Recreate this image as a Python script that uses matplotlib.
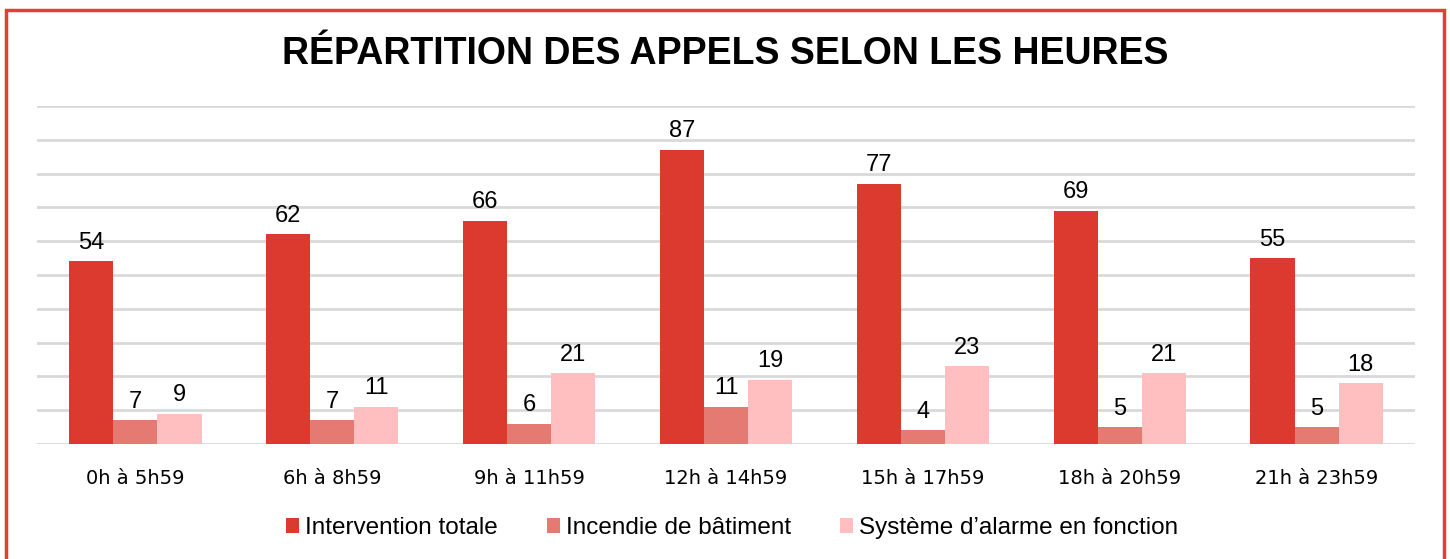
import matplotlib
matplotlib.use('Agg')
import matplotlib.pyplot as plt
import numpy as np
from matplotlib.patches import Rectangle

categories = ['0h à 5h59', '6h à 8h59', '9h à 11h59', '12h à 14h59',
              '15h à 17h59', '18h à 20h59', '21h à 23h59']
intervention_totale = [54, 62, 66, 87, 77, 69, 55]
incendie_batiment = [7, 7, 6, 11, 4, 5, 5]
systeme_alarme = [9, 11, 21, 19, 23, 21, 18]

series = [
    ('Intervention totale', intervention_totale, '#DC3A2E'),
    ('Incendie de bâtiment', incendie_batiment, '#E57A72'),
    ("Système d’alarme en fonction", systeme_alarme, '#FFBFC1'),
]

plt.rcParams['font.family'] = ['Liberation Sans', 'DejaVu Sans']

fig = plt.figure(figsize=(14.5, 5.59), dpi=100)
ax = fig.add_axes([0.0255, 0.2057, 0.9504, 0.6047])

x = np.arange(len(categories))
w = 0.224
for i, (name, vals, col) in enumerate(series):
    bars = ax.bar(x + (i - 1) * w, vals, w, color=col, label=name, zorder=3)
    for b, v in zip(bars, vals):
        ax.text(b.get_x() + b.get_width() / 2, v + 2.2, str(v),
                ha='center', va='bottom', fontsize=17, color='#000000')

ax.set_xlim(-0.5, len(categories) - 0.5)
ax.set_ylim(0, 100)
ax.set_yticks(np.arange(0, 101, 10))
ax.yaxis.grid(True, color='#D9D9D9', linewidth=2, zorder=0)
ax.tick_params(axis='y', left=False, labelleft=False)
ax.tick_params(axis='x', length=0, pad=18)
ax.set_xticks(x)
ax.set_xticklabels(categories, fontsize=14, family=['DejaVu Sans'])
for s in ax.spines.values():
    s.set_visible(False)

fig.text(0.5, 0.903, 'RÉPARTITION DES APPELS SELON LES HEURES',
         ha='center', va='center', fontsize=27, fontweight='bold')

fig.legend(loc='center', bbox_to_anchor=(0.505, 0.055), ncol=3, frameon=False,
           fontsize=17.5, handlelength=0.55, handleheight=0.55, handletextpad=0.25,
           columnspacing=2.0)

fig.patches.append(Rectangle((6 / 1450, -0.05), 1438 / 1450, 1.05 - 10 / 559,
                             transform=fig.transFigure, fill=False,
                             edgecolor='#E04030', linewidth=2.5))

fig.savefig('out.png', dpi=100)
